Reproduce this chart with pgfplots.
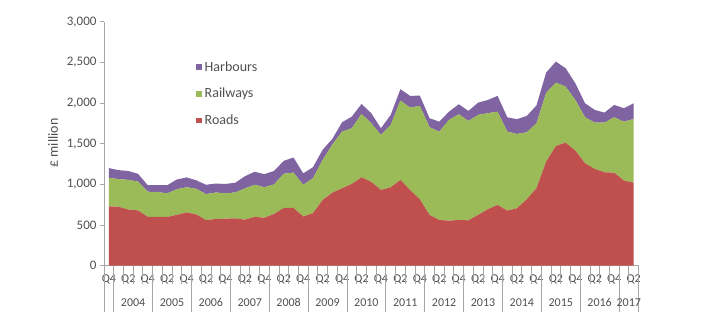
\documentclass[border=0pt]{standalone}
\usepackage{pgfplots}
\usepackage{pgfplotstable}
\pgfplotsset{compat=1.18}
\usepackage{fontspec}
\setmainfont{Carlito}
\definecolor{roads}{RGB}{192,80,77}
\definecolor{rail}{RGB}{155,187,89}
\definecolor{harb}{RGB}{128,100,162}
\definecolor{txt}{RGB}{80,80,80}
\definecolor{axl}{RGB}{166,166,166}
\pgfplotstableread{
x roads rail harb
0 730 350 120
1 725 340 110
2 690 365 110
3 680 355 95
4 600 310 80
5 600 305 85
6 600 290 100
7 625 315 120
8 655 310 120
9 630 315 105
10 560 320 115
11 575 325 110
12 578 312 115
13 583 317 120
14 566 384 150
15 600 395 160
16 590 375 160
17 636 364 165
18 710 420 160
19 710 435 185
20 605 390 140
21 645 430 135
22 808 492 125
23 898 592 70
24 952 696 116
25 1005 685 143
26 1087 779 123
27 1030 722 123
28 931 677 82
29 964 767 123
30 1054 976 140
31 931 1013 144
32 816 1148 127
33 624 1078 111
34 562 1086 123
35 554 1238 102
36 562 1300 123
37 558 1222 123
38 624 1230 151
39 694 1181 163
40 747 1147 194
41 677 971 177
42 706 914 181
43 816 824 201
44 952 799 219
45 1279 846 250
46 1472 779 258
47 1513 689 226
48 1415 623 205
49 1259 566 172
50 1189 570 156
51 1149 610 123
52 1144 681 152
53 1046 725 165
54 1021 783 193
}\datatable
\begin{document}
\begin{tikzpicture}
\useasboundingbox (0,0) rectangle (712pt,322pt);
\begin{axis}[
  at={(104pt,56.3pt)}, anchor=south west,
  scale only axis, width=534.5pt, height=244pt,
  xmin=-0.5, xmax=54.5, ymin=0, ymax=3000,
  stack plots=y,
  clip=false,
  axis x line*=bottom, axis y line*=left,
  axis line style={draw=axl, line width=0.8pt},
  ytick={0,500,...,3000},
  tick align=outside,
  major tick length=4pt,
  ytick style={draw=axl, line width=0.8pt},
  xtick={0,2,...,54},
  xtick style={draw=none},
  xticklabels={Q4,Q2,Q4,Q2,Q4,Q2,Q4,Q2,Q4,Q2,Q4,Q2,Q4,Q2,Q4,Q2,Q4,Q2,Q4,Q2,Q4,Q2,Q4,Q2,Q4,Q2,Q4,Q2},
  xticklabel style={font=\fontsize{12}{14}\selectfont, text=txt, anchor=north, yshift=-1.5pt},
  yticklabel style={font=\fontsize{13}{15}\selectfont, text=txt},
  /pgf/number format/assume math mode=true,
  /pgf/number format/1000 sep={,},
  scaled y ticks=false,
  ylabel={£ million},
  ylabel style={font=\fontsize{14}{16}\selectfont, text=txt, at={(axis description cs:-0.0954,0.503)}, anchor=center},
  legend style={at={(axis description cs:0.172,0.85)}, anchor=north west, draw=none, fill=none, inner sep=0pt,
    font=\fontsize{14}{16}\selectfont, text=txt, row sep=9.5pt,
    nodes={inner sep=3pt}},
  legend cell align=left,
  legend image code/.code={\fill[#1] (0pt,-2.8pt) rectangle (5.6pt,2.8pt);},
  reverse legend,
  after end axis/.code={
    \foreach \b in {1.5,2.5,3.5,5.5,6.5,7.5,9.5,10.5,11.5,13.5,14.5,15.5,17.5,18.5,19.5,21.5,22.5,23.5,25.5,26.5,27.5,29.5,30.5,31.5,33.5,34.5,35.5,37.5,38.5,39.5,41.5,42.5,43.5,45.5,46.5,47.5,49.5,50.5,51.5,53.5}{
      \draw[axl, line width=0.8pt] (axis cs:\b,0) -- ++(0,-18pt);
    }
    \foreach \b in {-0.5,0.5,4.5,8.5,12.5,16.5,20.5,24.5,28.5,32.5,36.5,40.5,44.5,48.5,52.5,54.5}{
      \draw[axl, line width=0.8pt] (axis cs:\b,0) -- ++(0,-46pt);
    }
    \foreach \c/\y in {2.5/2004,6.5/2005,10.5/2006,14.5/2007,18.5/2008,22.5/2009,26.5/2010,30.5/2011,34.5/2012,38.5/2013,42.5/2014,46.5/2015,50.5/2016,53.5/2017}{
      \node[font=\fontsize{12}{14}\selectfont, text=txt] at ([yshift=-36.5pt]axis cs:\c,0) {\y};
    }
  },
]
\addplot[fill=roads, draw=none] table[x=x, y=roads] {\datatable} \closedcycle;
\addlegendentry{Roads}
\addplot[fill=rail, draw=none] table[x=x, y=rail] {\datatable} \closedcycle;
\addlegendentry{Railways}
\addplot[fill=harb, draw=none] table[x=x, y=harb] {\datatable} \closedcycle;
\addlegendentry{Harbours}
\end{axis}
\end{tikzpicture}
\end{document}
